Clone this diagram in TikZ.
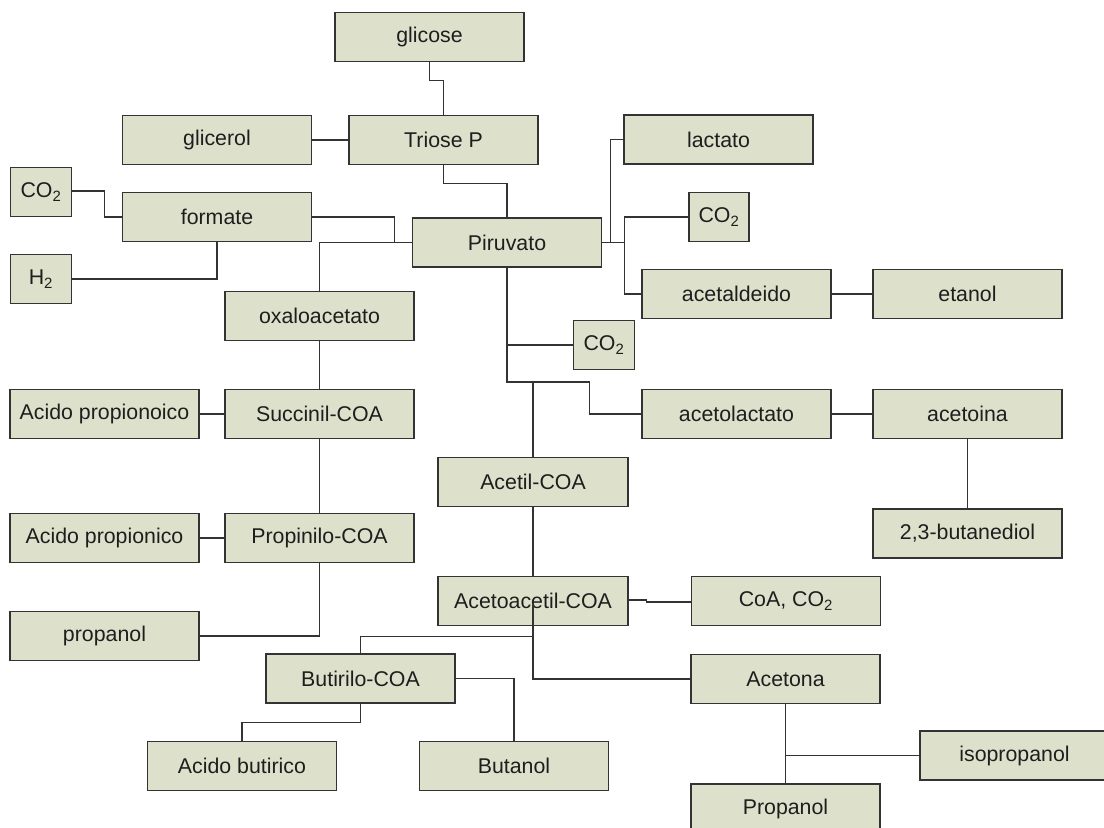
\documentclass[tikz,border=0pt]{standalone}
\usepackage{fontspec}
\setmainfont{Liberation Sans}
\usetikzlibrary{calc}
\definecolor{boxfill}{RGB}{221,225,203}
\definecolor{boxline}{RGB}{51,51,51}
\definecolor{txt}{RGB}{30,30,30}
\tikzset{
  box/.style={draw=boxline, fill=boxfill, line width=1.1pt, minimum width=189*0.75pt, minimum height=49*0.75pt, inner sep=0pt, text=txt, font=\fontsize{16}{19}\selectfont},
  smallbox/.style={box, minimum width=61*0.75pt},
  conn/.style={draw=boxline, line width=0.9pt}
}
\newcommand{\cotwo}{CO\textsubscript{2}}
\begin{document}
\begin{tikzpicture}[x=0.75pt,y=-0.75pt]
\useasboundingbox (0,0) rectangle (1104,828);
\clip (0,0) rectangle (1104,828);
\fill[white] (0,0) rectangle (1104,828);

% nodes
\node[box] (glicose) at (429.5,37) {glicose};
\node[box] (glicerol) at (217,140) {glicerol};
\node[box] (triose) at (443.5,140) {Triose P};
\node[smallbox] (co2a) at (41,192) {\cotwo};
\node[box] (formate) at (217,217) {formate};
\node[smallbox] (h2) at (41,279) {H\textsubscript{2}};
\node[box] (piruvato) at (507,242.7) {Piruvato};
\node[box] (lactato) at (718.5,139.5) {lactato};
\node[smallbox, minimum width=60*0.75pt] (co2b) at (719,217) {\cotwo};
\node[box] (acetaldeido) at (736.5,294) {acetaldeido};
\node[box] (etanol) at (967.5,294) {etanol};
\node[box] (oxalo) at (319.5,316) {oxaloacetato};
\node[smallbox] (co2c) at (604,345) {\cotwo};
\node[box] (acpropionoico) at (104.5,414) {Acido propionoico};
\node[box] (succinil) at (319.5,414) {Succinil-COA};
\node[box] (acetolactato) at (736.5,414) {acetolactato};
\node[box] (acetoina) at (967.5,414) {acetoina};
\node[box, minimum width=190*0.75pt] (acetil) at (533,482) {Acetil-COA};
\node[box] (butanediol) at (967.5,533.5) {2,3-butanediol};
\node[box] (acpropionico) at (104.5,538) {Acido propionico};
\node[box] (propinilo) at (319.5,538) {Propinilo-COA};
\node[box, minimum width=190*0.75pt] (acetoacetil) at (533,601) {Acetoacetil-COA};
\node[box] (coa) at (786,601) {CoA, \cotwo};
\node[box] (propanol) at (104.5,636) {propanol};
\node[box] (butirilo) at (360.5,678.5) {Butirilo-COA};
\node[box] (acetona) at (785.5,679) {Acetona};
\node[box] (isopropanol) at (1014.5,755.5) {isopropanol};
\node[box] (acbutirico) at (242,766) {Acido butirico};
\node[box] (butanol) at (514,766) {Butanol};
\node[box] (propanolB) at (785.5,808.5) {Propanol};

% junction coordinates
\coordinate (pj) at ($(piruvato.south)+(82.3,114)$);
\coordinate (bj) at ($(acetoacetil.south)+(0,10.5)$);

% connectors
\draw[conn] (glicose.south) -- ++(0,18) -| (triose.north);
\draw[conn] (glicerol.east) -- (triose.west);
\draw[conn] (triose.south) -- ++(0,18.3) -| (piruvato.north);
\draw[conn] ($(co2a.east)+(0,-1)$) -- ++(32,0) |- (formate.west);
\draw[conn] (formate.east) -- ++(82.6,0) |- (piruvato.west);
\draw[conn] (formate.south) |- (h2.east);
\draw[conn] (piruvato.west) -| (oxalo.north);
\draw[conn] (piruvato.east) -- ++(8.4,0) |- (lactato.west);
\draw[conn] (piruvato.east) -- ++(22,0) |- (co2b.west);
\draw[conn] (piruvato.east) -- ++(22,0) |- (acetaldeido.west);
\draw[conn] (acetaldeido.east) -- (etanol.west);
\draw[conn] (oxalo.south) -- (succinil.north);
\draw[conn] (acpropionoico.east) -- (succinil.west);
\draw[conn] (succinil.south) -- (propinilo.north);
\draw[conn] (acpropionico.east) -- (propinilo.west);
\draw[conn] (propinilo.south) |- (propanol.east);
\draw[conn] (piruvato.south) |- (co2c.west);
\draw[conn] (piruvato.south) |- (pj) |- (acetolactato.west);
\draw[conn] (acetil.north) -- (acetil.north |- pj);
\draw[conn] (acetolactato.east) -- (acetoina.west);
\draw[conn] (acetoina.south) -- (butanediol.north);
\draw[conn] (acetil.south) -- (acetoacetil.north);
\draw[conn] ($(acetoacetil.east)+(0,-1)$) -- ++(18,0) -- ++(0,2) -- ($(coa.west)+(0,1)$);
\draw[conn] ($(acetoacetil.center)+(0,2)$) |- (acetona.west);
\draw[conn] (bj) -| (butirilo.north);
\draw[conn] (butirilo.east) -| (butanol.north);
\draw[conn] (butirilo.south) -- ++(0,18.5) -| (acbutirico.north);
\draw[conn] (acetona.south) -- (propanolB.north);
\draw[conn] (acetona.south |- isopropanol.west) -- (isopropanol.west);
\end{tikzpicture}
\end{document}
